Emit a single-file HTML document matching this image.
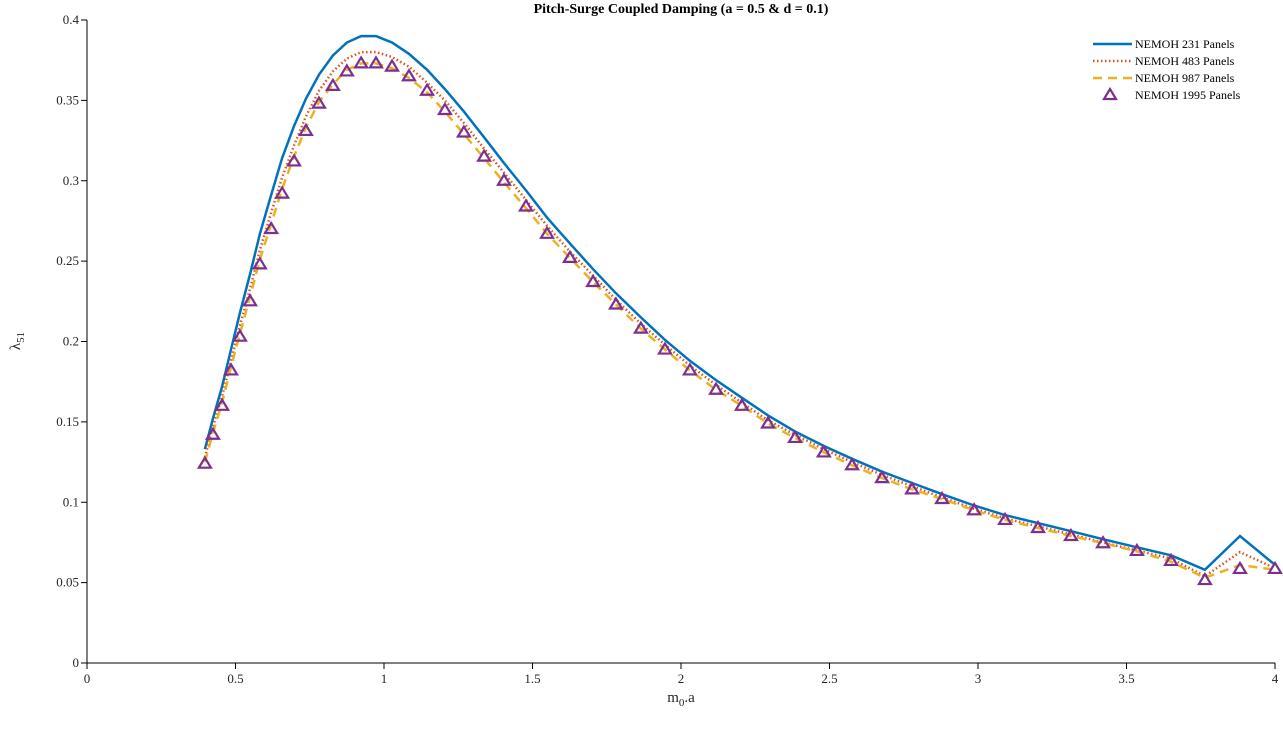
<!DOCTYPE html>
<html><head><meta charset="utf-8"><style>
body{margin:0;background:#fff}
svg{display:block;font-family:"Liberation Serif",serif}
</style></head><body>
<svg id="chart" width="1283" height="739" viewBox="0 0 1283 739"></svg>
<script>
const xs=[0.397,0.424,0.455,0.485,0.515,0.549,0.582,0.62,0.657,0.697,0.737,0.781,0.828,0.875,0.923,0.973,1.027,1.084,1.145,1.205,1.269,1.337,1.404,1.478,1.549,1.626,1.704,1.781,1.865,1.946,2.03,2.118,2.205,2.293,2.384,2.481,2.576,2.677,2.778,2.879,2.987,3.091,3.202,3.313,3.421,3.535,3.65,3.764,3.882,4.0];
const s231=[0.133,0.152,0.172,0.195,0.218,0.242,0.267,0.291,0.314,0.334,0.351,0.366,0.378,0.386,0.390,0.390,0.386,0.379,0.369,0.357,0.343,0.327,0.311,0.294,0.277,0.261,0.245,0.230,0.215,0.201,0.188,0.176,0.165,0.154,0.144,0.135,0.127,0.119,0.112,0.105,0.098,0.092,0.087,0.082,0.077,0.072,0.067,0.058,0.079,0.061];
const s483=[0.128,0.147,0.166,0.188,0.210,0.233,0.257,0.280,0.302,0.322,0.340,0.356,0.368,0.376,0.380,0.380,0.377,0.371,0.361,0.350,0.336,0.320,0.305,0.288,0.272,0.256,0.241,0.226,0.211,0.198,0.185,0.173,0.162,0.151,0.142,0.133,0.125,0.117,0.110,0.103,0.096,0.090,0.085,0.080,0.075,0.070,0.065,0.054,0.069,0.059];
const s987=[0.125,0.143,0.162,0.184,0.205,0.228,0.251,0.273,0.295,0.315,0.333,0.349,0.360,0.369,0.373,0.373,0.370,0.364,0.355,0.343,0.329,0.314,0.299,0.283,0.267,0.252,0.237,0.223,0.208,0.195,0.182,0.170,0.160,0.149,0.140,0.131,0.123,0.115,0.108,0.102,0.095,0.089,0.084,0.079,0.0745,0.0695,0.063,0.053,0.061,0.058];
const s1995=[0.124,0.142,0.160,0.182,0.203,0.225,0.248,0.270,0.292,0.312,0.331,0.348,0.359,0.368,0.373,0.373,0.371,0.365,0.356,0.344,0.330,0.315,0.300,0.284,0.267,0.252,0.237,0.223,0.208,0.195,0.182,0.170,0.160,0.149,0.140,0.131,0.123,0.115,0.108,0.102,0.095,0.089,0.084,0.079,0.0745,0.0697,0.0635,0.0516,0.0585,0.0585];
const xTicks=[0,0.5,1,1.5,2,2.5,3,3.5,4];
const yTicks=[0,0.05,0.1,0.15,0.2,0.25,0.3,0.35,0.4];
const NS='http://www.w3.org/2000/svg';
const svg=document.getElementById('chart');
const X0=87,X1=1275,Y0=663,Y1=20;
const sx=v=>X0+(v/4)*(X1-X0);
const sy=v=>Y0-(v/0.4)*(Y0-Y1);
function mk(t,a,p){const e=document.createElementNS(NS,t);for(const k in a)e.setAttribute(k,a[k]);(p||svg).appendChild(e);return e;}
let e;
e=mk('path',{d:`M${X0},${Y1}V${Y0}H${X1}`,fill:'none',stroke:'#000','stroke-width':1});


xTicks.forEach(t=>{const x=sx(t);
 mk('line',{x1:x,x2:x,y1:Y0,y2:Y0+6,stroke:'#000'});
 e=mk('text',{x:x,y:Y0+20,'text-anchor':'middle','font-size':13,fill:'#262626'});e.textContent=t;
 
 });
yTicks.forEach(t=>{const y=sy(t);
 mk('line',{x1:X0-6,x2:X0,y1:y,y2:y,stroke:'#000'});
 e=mk('text',{x:X0-8,y:y+4,'text-anchor':'end','font-size':13,fill:'#262626'});e.textContent=t;
 
 });
function path(arr){return arr.map((v,i)=>(i?'L':'M')+sx(xs[i]).toFixed(1)+','+sy(v).toFixed(1)).join('');}
e=mk('path',{d:path(s231),fill:'none',stroke:'#0072BD','stroke-width':2.5});


e=mk('path',{d:path(s483),fill:'none',stroke:'#D95319','stroke-width':2.5,'stroke-dasharray':'1.5 2.5'});


e=mk('path',{d:path(s987),fill:'none',stroke:'#EDB120','stroke-width':2.5,'stroke-dasharray':'9 6'});


function tri(x,y){return `M${x},${y-6}L${x+6},${y+4}L${x-6},${y+4}Z`;}
s1995.forEach((v,i)=>{e=mk('path',{d:tri(sx(xs[i]),sy(v)),fill:'none',stroke:'#7E2F8E','stroke-width':2.2});
 
 });
e=mk('text',{x:681,y:13,'text-anchor':'middle','font-size':14,'font-weight':'bold',fill:'#000'});e.textContent='Pitch-Surge Coupled Damping (a = 0.5 & d = 0.1)';


e=mk('text',{x:681,y:702,'text-anchor':'middle','font-size':15,fill:'#262626'});e.innerHTML='m<tspan font-size="11" dy="4">0</tspan><tspan dy="-4">.a</tspan>';


e=mk('text',{x:0,y:0,'text-anchor':'middle','font-size':15,fill:'#262626',transform:'translate(20,341) rotate(-90)'});e.innerHTML='λ<tspan font-size="11" dy="4">51</tspan>';


const leg=[['NEMOH 231 Panels','#0072BD',''],['NEMOH 483 Panels','#D95319','1.5 2.5'],['NEMOH 987 Panels','#EDB120','9 6'],['NEMOH 1995 Panels','#7E2F8E','tri']];
leg.forEach((l,i)=>{const y=44+i*17;
 if(l[2]==='tri'){mk('path',{d:tri(1110,y),fill:'none',stroke:l[1],'stroke-width':2.2});}
 else mk('line',{x1:1093,x2:1132,y1:y,y2:y,stroke:l[1],'stroke-width':2.5,'stroke-dasharray':l[2]});
 e=mk('text',{x:1135,y:y+4,'font-size':12,fill:'#000'});e.textContent=l[0];
 
 });
</script>
</body></html>
